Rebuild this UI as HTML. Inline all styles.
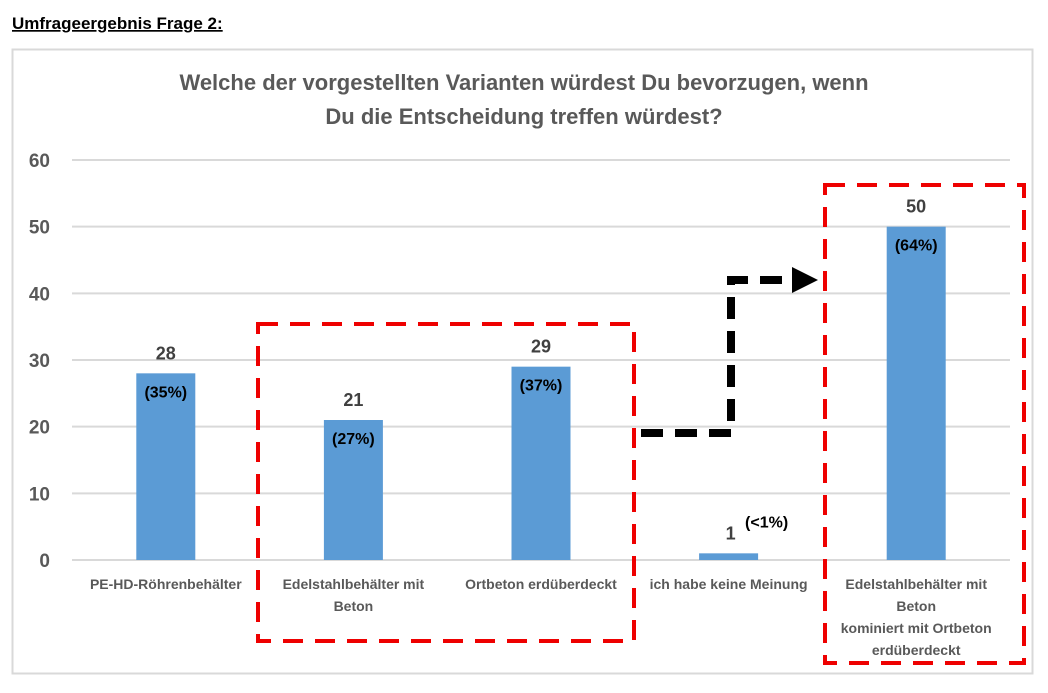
<!DOCTYPE html>
<html><head><meta charset="utf-8"><style>
body{margin:0;background:#fff;width:1048px;height:688px;overflow:hidden;font-family:"Liberation Sans",sans-serif}
svg text{font-family:"Liberation Sans",sans-serif;font-weight:bold}
</style></head><body>
<svg width="1048" height="688">
<text x="12" y="29" font-size="17" fill="#000" text-decoration="underline">Umfrageergebnis Frage 2:</text>
<rect x="12.5" y="49.5" width="1020" height="624" fill="#fff" stroke="#d9d9d9" stroke-width="2"/>
<text x="524" y="90" font-size="22" fill="#595959" text-anchor="middle">Welche der vorgestellten Varianten würdest Du bevorzugen, wenn</text>
<text x="524" y="124" font-size="22" fill="#595959" text-anchor="middle">Du die Entscheidung treffen würdest?</text>
<g id="grid"></g><g id="bars"></g><g id="labels"></g>
<g>
<rect x="258" y="324" width="376" height="317" fill="none" stroke="#e00" stroke-width="4" stroke-dasharray="20,12"/>
<rect x="825" y="185" width="199" height="478" fill="none" stroke="#e00" stroke-width="4" stroke-dasharray="20,12"/>
<polyline points="641,433 731,433 731,280 795,280" fill="none" stroke="#000" stroke-width="8" stroke-dasharray="22,12"/>
<polygon points="792,267 818,280 792,293" fill="#000"/>
</g>
</svg>
<script>
const categories=[["PE-HD-Röhrenbehälter"],["Edelstahlbehälter mit","Beton"],["Ortbeton erdüberdeckt"],["ich habe keine Meinung"],["Edelstahlbehälter mit","Beton","kominiert mit Ortbeton","erdüberdeckt"]];
const values=[28,21,29,1,50];
const percents=["(35%)","(27%)","(37%)","(<1%)","(64%)"];
const ticks=[0,10,20,30,40,50,60];
const NS="http://www.w3.org/2000/svg";
const x0=72,x1=1010,y0=560,y1=160,ymax=60;
const y=v=>y0-(v/ymax)*(y0-y1);
const bw=(x1-x0)/categories.length;
const xc=i=>x0+bw*(i+0.5);
function mk(t,a,p,txt){const e=document.createElementNS(NS,t);for(const k in a)e.setAttribute(k,a[k]);if(txt!=null)e.textContent=txt;p.appendChild(e);return e;}
const G=document.getElementById('grid'),B=document.getElementById('bars'),L=document.getElementById('labels');
ticks.forEach(t=>{
 const l=mk('line',{x1:x0,x2:x1,y1:y(t),y2:y(t),stroke:'#d9d9d9','stroke-width':2},G);
 
 
 const tx=mk('text',{x:50,y:y(t)+7,'font-size':19,fill:'#595959','text-anchor':'end'},G,t);
 
 
});
values.forEach((v,i)=>{
 const r=mk('rect',{x:xc(i)-29.5,y:y(v),width:59,height:y0-y(v),fill:'#5b9bd5'},B);
 
 
 const small=(y0-y(v))<40;
 const vl=mk('text',{x:xc(i),y:y(v)-14,'font-size':18,fill:'#404040','text-anchor':'middle'},L,v);
 
 
 const pl=mk('text',{x:small?xc(i)+38:xc(i),y:small?y(v)-26:y(v)+24,'font-size':16,fill:'#000','text-anchor':'middle'},L,percents[i]);
 
 
 if(small)vl.setAttribute('x',xc(i)+2);
 categories[i].forEach((s,j)=>{
  const c=mk('text',{x:xc(i),y:589+j*22,'font-size':14,fill:'#595959','text-anchor':'middle'},L,s);
  
  
 });
});
</script>
</body></html>
